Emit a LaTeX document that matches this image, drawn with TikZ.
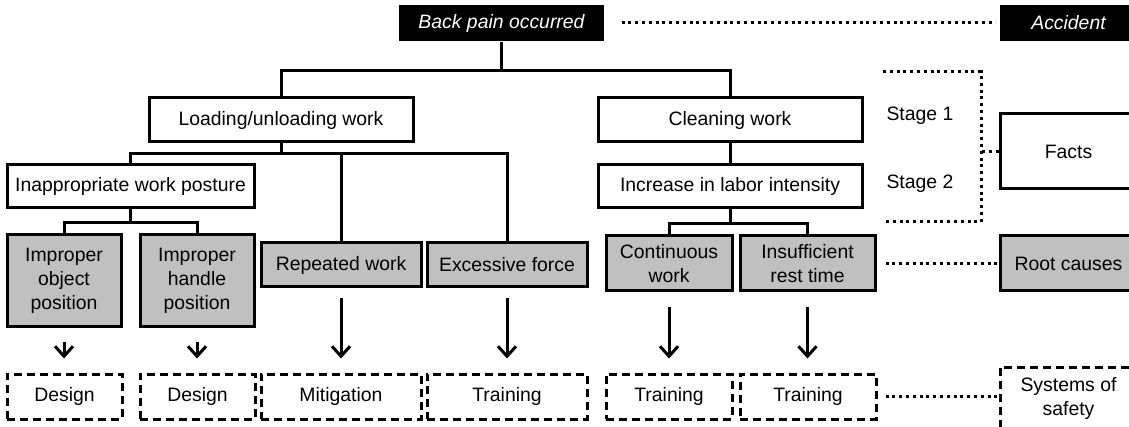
\documentclass[tikz,border=0pt]{standalone}
\usepackage{fontspec}
\setmainfont{Liberation Sans}
\usetikzlibrary{arrows.meta}
\definecolor{causegray}{RGB}{192,192,192}

\begin{document}
\begin{tikzpicture}[x=1pt, y=-1pt, line width=3pt,
  every node/.style={font=\fontsize{19.4}{24}\selectfont, inner sep=0pt, align=center},
  blackbox/.style={fill=black, text=white, font=\fontsize{19.4}{24}\selectfont\itshape, minimum height=36pt},
  factbox/.style={draw, fill=white, minimum height=44pt},
  causebox/.style={draw, fill=causegray},
  measurebox/.style={draw, dash pattern=on 8pt off 5pt, minimum height=45pt},
  dotline/.style={dash pattern=on 3pt off 3.8pt},
  down/.style={-{Straight Barb[length=10pt,width=18pt]}, shorten >=14pt}]
\useasboundingbox (0,0) rectangle (1129,427);

% top row
\node[blackbox, minimum width=205pt] (pain) at (501.5,23) {Back pain occurred};
\node[blackbox, minimum width=137pt] (acc) at (1068.5,23) {Accident};

% facts
\node[factbox, minimum width=264pt] (load) at (281,120) {Loading/unloading work};
\node[factbox, minimum width=264pt] (clean) at (730,120) {Cleaning work};
\node[factbox, minimum width=247pt, minimum height=43pt] (posture) at (130.5,186.5) {Inappropriate work posture};
\node[factbox, minimum width=264pt, minimum height=43pt] (labor) at (730,186.5) {Increase in labor intensity};
\node[anchor=west] (st1) at (885,116) {Stage 1};
\node[anchor=west] (st2) at (885,184) {Stage 2};
\node[factbox, minimum width=137pt, minimum height=75pt] (facts) at (1068.5,151.5) {Facts};

% root causes
\node[causebox, minimum width=114pt, minimum height=92pt] (obj) at (64,281) {Improper\\object\\position};
\node[causebox, minimum width=114pt, minimum height=92pt] (hdl) at (197,281) {Improper\\handle\\position};
\node[causebox, minimum width=160pt, minimum height=44pt] (rep) at (341,265) {Repeated work};
\node[causebox, minimum width=160pt, minimum height=44pt] (force) at (507,265) {Excessive force};
\node[causebox, minimum width=126pt, minimum height=55pt] (cont) at (669,263.5) {Continuous\\work};
\node[causebox, minimum width=135pt, minimum height=55pt] (rest) at (807.5,263.5) {Insufficient\\rest time};
\node[causebox, minimum width=137pt, minimum height=55pt] (root) at (1068.5,263.5) {Root causes};

% safety measures
\foreach \n/\x/\w/\t in {m1/64.5/115/Design, m2/197.5/115/Design, m3/341/160/Mitigation,
    m4/507/160/Training, m5/669/126/Training, m6/808/136/Training}
  \node[measurebox, minimum width=\w pt] (\n) at (\x,396.5) {\t};
\node[measurebox, minimum width=137pt, minimum height=63pt] (safety) at (1068.5,398.5) {Systems of\\safety};

% tree
\draw (pain.south) -- +(0,28) -| (load.north);
\draw (pain.south) -- +(0,28) -| (clean.north);
\foreach \c in {posture,rep,force} \draw (load.south) -- +(0,10) -| (\c.north);
\foreach \c in {obj,hdl} \draw (posture.south) -- +(0,13) -| (\c.north);
\draw (clean) -- (labor);
\foreach \c in {cont,rest} \draw (labor.south) -- +(0,14) -| (\c.north);

% causes to measures
\foreach \a/\b/\s in {obj/m1/13, hdl/m2/13, rep/m3/10, force/m4/10, cont/m5/15, rest/m6/15}
  \draw[down, shorten <=\s pt] (\a.south) -- (\a.south |- \b.north);

% dotted links to the right column
\coordinate (bt) at (883,72);
\coordinate (bb) at (883,222);
\draw[dotline] ([xshift=16pt]pain.east) -- ([xshift=-3pt]acc.west);
\draw[dotline] (bt) -| (981,222) -- (bb);
\draw[dotline] (facts.west) -- +(-19,0);
\draw[dotline] ([xshift=9pt]rest.east) -- (root.west);
\draw[dotline] ([xshift=8pt]m6.east) -- (safety.west |- m6.east);
\end{tikzpicture}
\end{document}
